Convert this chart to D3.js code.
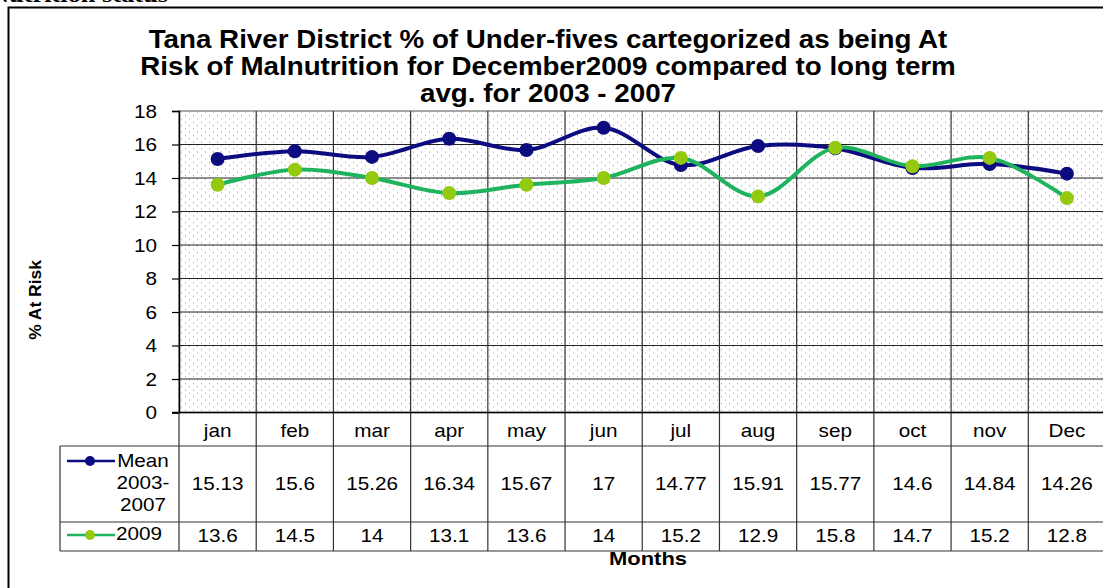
<!DOCTYPE html>
<html>
<head>
<meta charset="utf-8">
<script src="https://cdn.jsdelivr.net/npm/d3@7"></script>
<style>
  body { margin: 0; background: #fff; }
  svg { display: block; font-family: Arial, "Liberation Sans", sans-serif; }
</style>
</head>
<body>
<svg id="chart"></svg>
<script>
const W = 1103, H = 588;

const months = ["jan", "feb", "mar", "apr", "may", "jun", "jul", "aug", "sep", "oct", "nov", "Dec"];
const meanValues = [15.13, 15.6, 15.26, 16.34, 15.67, 17, 14.77, 15.91, 15.77, 14.6, 14.84, 14.26];
const values2009 = [13.6, 14.5, 14, 13.1, 13.6, 14, 15.2, 12.9, 15.8, 14.7, 15.2, 12.8];
const yTicks = [0, 2, 4, 6, 8, 10, 12, 14, 16, 18];
const titleLines = [
    "Tana River District % of Under-fives cartegorized as being At",
    "Risk of Malnutrition for December2009 compared to long term",
    "avg. for 2003 - 2007"
];

const plot = { left: 179, right: 1105.5, top: 111, bottom: 412.5 };
const tbl = { left: 60, head: 446, row1: 522, row2: 551 };
const SX = 1.15; // the source picture is a bit wider than tall

// move x/y of texts into a transform so they can be stretched sideways
function stretch(sel, sx) {
    sel.each(function () {
        const t = d3.select(this);
        const tx = +t.attr("x") || 0, ty = +t.attr("y") || 0;
        const prev = t.attr("transform") || "";
        t.attr("x", 0).attr("y", 0)
            .attr("transform", `${prev} translate(${tx},${ty}) scale(${sx},1)`);
    });
}

const svg = d3.select("#chart")
    .attr("width", W)
    .attr("height", H);

// dotted background pattern
const defs = svg.append("defs");
const pat = defs.append("pattern")
    .attr("id", "dots")
    .attr("patternUnits", "userSpaceOnUse")
    .attr("width", 8)
    .attr("height", 6.7);
pat.append("rect").attr("width", 8).attr("height", 6.7).attr("fill", "#fff");
pat.append("rect").attr("x", 1).attr("y", 1).attr("width", 1).attr("height", 1).attr("fill", "#999");
pat.append("rect").attr("x", 5).attr("y", 4.3).attr("width", 1).attr("height", 1).attr("fill", "#999");

// cropped text from the page above
svg.append("text")
    .attr("x", -10)
    .attr("y", 2)
    .style("font-family", "'Liberation Serif', 'Times New Roman', serif")
    .style("font-weight", "bold")
    .style("font-size", "22px")
    .text("Nutrition status")
    .call(stretch, 1.2);

// outer frame
svg.append("rect")
    .attr("x", 8.5)
    .attr("y", 7.5)
    .attr("width", 1110)
    .attr("height", 620)
    .attr("fill", "none")
    .attr("stroke", "#000")
    .attr("stroke-width", 2);

// title
svg.append("g").selectAll("text")
    .data(titleLines)
    .enter()
    .append("text")
    .attr("x", 548)
    .attr("y", (d, i) => 48 + i * 27)
    .attr("text-anchor", "middle")
    .style("font-weight", "bold")
    .style("font-size", "25px")
    .text(d => d)
    .call(stretch, 1.11);

// scales
const x = d3.scaleBand()
    .domain(months)
    .range([plot.left, plot.right])
    .paddingInner(0)
    .paddingOuter(0);

const y = d3.scaleLinear()
    .domain([0, 18])
    .range([plot.bottom, plot.top]);

// plot background
svg.append("rect")
    .attr("x", plot.left)
    .attr("y", plot.top)
    .attr("width", plot.right - plot.left)
    .attr("height", plot.bottom - plot.top)
    .attr("fill", "url(#dots)")
    .attr("stroke", "#8c8c8c")
    .attr("stroke-width", 1.5);

// horizontal gridlines
svg.append("g").selectAll("line")
    .data(yTicks.filter(t => t > 0 && t < 18))
    .enter()
    .append("line")
    .attr("x1", plot.left)
    .attr("x2", plot.right)
    .attr("y1", d => y(d))
    .attr("y2", d => y(d))
    .attr("stroke", "#222")
    .attr("stroke-width", 1.2);

// vertical gridlines (category borders) running down through the table
svg.append("g").selectAll("line")
    .data(months.slice(1))
    .enter()
    .append("line")
    .attr("x1", d => x(d))
    .attr("x2", d => x(d))
    .attr("y1", plot.top)
    .attr("y2", tbl.row2)
    .attr("stroke", "#333")
    .attr("stroke-width", 1.2);

// y axis
const yAxis = svg.append("g")
    .attr("transform", `translate(${plot.left},0)`)
    .call(d3.axisLeft(y).tickValues(yTicks).tickSize(7).tickPadding(15).tickFormat(d3.format("d")));
yAxis.select(".domain").attr("stroke", "#000").attr("stroke-width", 1.5);
yAxis.selectAll(".tick line").attr("stroke", "#000").attr("stroke-width", 1.2);
yAxis.selectAll(".tick text")
    .style("font-size", "18px")
    .style("font-family", "Arial, 'Liberation Sans', sans-serif")
    .attr("fill", "#000")
    .attr("dy", null)
    .attr("y", 6)
    .call(stretch, SX);

// x axis line
svg.append("line")
    .attr("x1", plot.left - 7)
    .attr("x2", plot.right)
    .attr("y1", plot.bottom)
    .attr("y2", plot.bottom)
    .attr("stroke", "#000")
    .attr("stroke-width", 1.5);

// y title
svg.append("text")
    .attr("transform", "translate(41,300) rotate(-90) scale(1.09,1)")
    .attr("text-anchor", "middle")
    .style("font-weight", "bold")
    .style("font-size", "16px")
    .text("% At Risk");

// data table
const table = svg.append("g");
table.append("line")
    .attr("x1", plot.left).attr("x2", plot.left)
    .attr("y1", plot.bottom).attr("y2", tbl.row2)
    .attr("stroke", "#333").attr("stroke-width", 1.2);
table.append("line")
    .attr("x1", tbl.left).attr("x2", tbl.left)
    .attr("y1", tbl.head).attr("y2", tbl.row2)
    .attr("stroke", "#333").attr("stroke-width", 1.2);
table.selectAll("line.h")
    .data([tbl.head, tbl.row1, tbl.row2])
    .enter()
    .append("line")
    .attr("class", "h")
    .attr("x1", tbl.left).attr("x2", plot.right)
    .attr("y1", d => d).attr("y2", d => d)
    .attr("stroke", "#333").attr("stroke-width", 1.2);

table.selectAll("text.month")
    .data(months)
    .enter()
    .append("text")
    .attr("class", "month")
    .attr("x", d => x(d) + x.bandwidth() / 2)
    .attr("y", 437)
    .attr("text-anchor", "middle")
    .style("font-size", "18px")
    .text(d => d)
    .call(stretch, SX);

table.selectAll("text.mean")
    .data(meanValues)
    .enter()
    .append("text")
    .attr("class", "mean")
    .attr("x", (d, i) => x(months[i]) + x.bandwidth() / 2)
    .attr("y", 490)
    .attr("text-anchor", "middle")
    .style("font-size", "18px")
    .text(d => d)
    .call(stretch, SX);

table.selectAll("text.y2009")
    .data(values2009)
    .enter()
    .append("text")
    .attr("class", "y2009")
    .attr("x", (d, i) => x(months[i]) + x.bandwidth() / 2)
    .attr("y", 542)
    .attr("text-anchor", "middle")
    .style("font-size", "18px")
    .text(d => d)
    .call(stretch, SX);

// legend keys inside the table
const navy = "#0c0c80", green = "#1fb35e", lime = "#93c90f";
function legendKey(yPos, lineColor, fillColor) {
    table.append("line")
        .attr("x1", 67).attr("x2", 115)
        .attr("y1", yPos).attr("y2", yPos)
        .attr("stroke", lineColor).attr("stroke-width", 2.5);
    table.append("circle")
        .attr("cx", 90).attr("cy", yPos).attr("r", 5)
        .attr("fill", fillColor);
}
legendKey(461, navy, navy);
legendKey(535, green, lime);

table.selectAll("text.lg1")
    .data(["Mean", "2003-", "2007"])
    .enter()
    .append("text")
    .attr("class", "lg1")
    .attr("x", 143)
    .attr("y", (d, i) => 467 + i * 22)
    .attr("text-anchor", "middle")
    .style("font-size", "18px")
    .text(d => d)
    .call(stretch, SX);

table.append("text")
    .attr("x", 116)
    .attr("y", 540)
    .style("font-size", "18px")
    .text("2009")
    .call(stretch, SX);

// x title
svg.append("text")
    .attr("x", 648)
    .attr("y", 565)
    .attr("text-anchor", "middle")
    .style("font-weight", "bold")
    .style("font-size", "18px")
    .text("Months")
    .call(stretch, 1.22);

// series
const line = d3.line()
    .x((d, i) => x(months[i]) + x.bandwidth() / 2)
    .y(d => y(d))
    .curve(d3.curveCatmullRom.alpha(0.5));

function drawSeries(values, lineColor, fillColor) {
    svg.append("path")
        .datum(values)
        .attr("d", line)
        .attr("fill", "none")
        .attr("stroke", lineColor)
        .attr("stroke-width", 4);
    svg.append("g").selectAll("circle")
        .data(values)
        .enter()
        .append("circle")
        .attr("cx", (d, i) => x(months[i]) + x.bandwidth() / 2)
        .attr("cy", d => y(d))
        .attr("r", 7)
        .attr("fill", fillColor);
}
drawSeries(meanValues, navy, navy);
drawSeries(values2009, green, lime);
</script>
</body>
</html>
